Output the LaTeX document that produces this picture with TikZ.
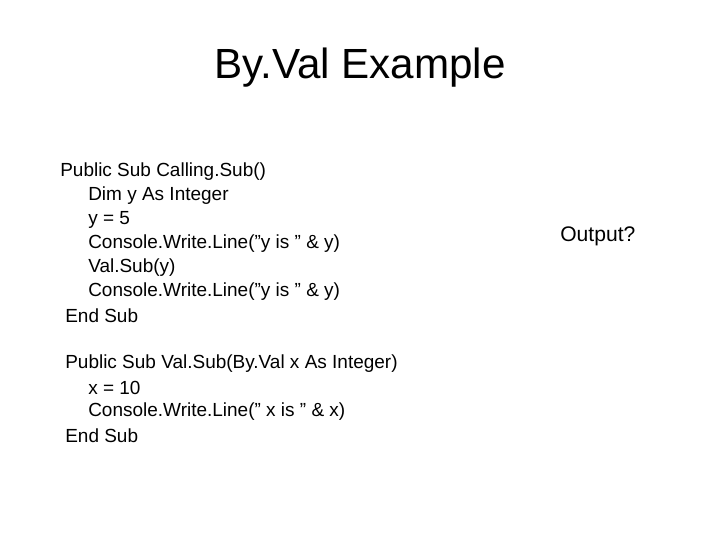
\documentclass[tikz,border=0pt]{standalone}
\usepackage{fontspec}
\setmainfont{Liberation Sans}
\tikzset{
	code line/.style={anchor=west,inner sep=0pt,font=\fontsize{13.5}{16}\selectfont},
	title line/.style={inner sep=0pt,font=\fontsize{30}{36}\selectfont}
}
\begin{document}
\begin{tikzpicture}[x=0.025cm,y=-0.025cm]
            \useasboundingbox (0,0) rectangle (720,540);
            \node [title line] (title) at (360,68) {By.Val Example};
            % calling sub
            \node [code line] (c1) at (60,172) {Public Sub Calling.Sub()};
            \node [code line] (c2) at (88,196) {Dim y As Integer};
            \node [code line] (c3) at (88,220) {y = 5};
            \node [code line] (c4) at (88,244) {Console.Write.Line("y is " \& y)};
            \node [code line] (c5) at (88,268) {Val.Sub(y)};
            \node [code line] (c6) at (88,292) {Console.Write.Line("y is " \& y)};
            \node [code line] (c7) at (65,316) {End Sub};
            % val sub
            \node [code line] (v1) at (65,364) {Public Sub Val.Sub(By.Val x As Integer)};
            \node [code line] (v2) at (88,388) {x = 10};
            \node [code line] (v3) at (88,412) {Console.Write.Line(" x is " \& x)};
            \node [code line] (v4) at (65,436) {End Sub};
            \node [code line,font=\fontsize{15}{18}\selectfont] (out) at (560,236) {Output?};
\end{tikzpicture}
\end{document}
